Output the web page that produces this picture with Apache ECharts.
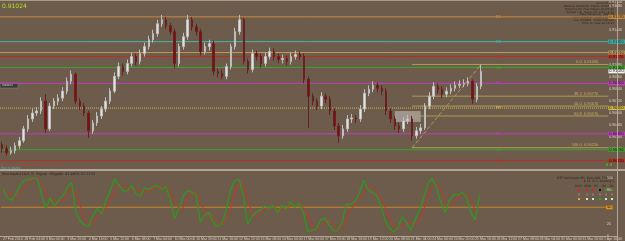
<!DOCTYPE html>
<html><head><meta charset="utf-8">
<script src="https://cdn.jsdelivr.net/npm/echarts@6/dist/echarts.min.js"></script>
<style>html,body{margin:0;padding:0;background:#6d5c4b;}#c{width:625px;height:241px;}</style>
</head><body><div id="c"></div>
<script>
const opens = [0.9028,0.9024,0.9020,0.9022,0.9027,0.9032,0.9044,0.9054,0.9060,0.9062,
0.9072,0.9044,0.9067,0.9072,0.9075,0.9082,0.9092,0.9099,0.9072,0.9067,
0.9060,0.9042,0.9050,0.9057,0.9064,0.9072,0.9082,0.9097,0.9107,0.9102,
0.9110,0.9117,0.9112,0.9120,0.9127,0.9134,0.9140,0.9150,0.9154,0.9148,
0.9142,0.9110,0.9127,0.9137,0.9154,0.9147,0.9142,0.9122,0.9127,0.9130,
0.9102,0.9100,0.9097,0.9107,0.9127,0.9142,0.9154,0.9112,0.9104,0.9120,
0.9117,0.9110,0.9117,0.9122,0.9117,0.9114,0.9115,0.9112,0.9117,0.9119,
0.9117,0.9094,0.9077,0.9072,0.9067,0.9077,0.9074,0.9062,0.9047,0.9037,
0.9044,0.9054,0.9055,0.9054,0.9064,0.9080,0.9084,0.9088,0.9085,0.9082,
0.9062,0.9054,0.9047,0.9044,0.9052,0.9054,0.9037,0.9042,0.9045,0.9067,
0.9077,0.9087,0.9084,0.9079,0.9082,0.9085,0.9088,0.9089,0.9090,0.9092,
0.9074,0.9087];
const closes = [0.9024,0.9020,0.9022,0.9027,0.9032,0.9044,0.9054,0.9060,0.9062,0.9072,
0.9044,0.9067,0.9072,0.9075,0.9082,0.9092,0.9099,0.9072,0.9067,0.9060,
0.9042,0.9050,0.9057,0.9064,0.9072,0.9082,0.9097,0.9107,0.9102,0.9110,
0.9117,0.9112,0.9120,0.9127,0.9134,0.9140,0.9150,0.9154,0.9148,0.9142,
0.9110,0.9127,0.9137,0.9154,0.9147,0.9142,0.9122,0.9127,0.9130,0.9102,
0.9100,0.9097,0.9107,0.9127,0.9142,0.9154,0.9112,0.9104,0.9120,0.9117,
0.9110,0.9117,0.9122,0.9117,0.9114,0.9115,0.9112,0.9117,0.9119,0.9117,
0.9094,0.9077,0.9072,0.9067,0.9077,0.9074,0.9062,0.9047,0.9037,0.9044,
0.9054,0.9055,0.9054,0.9064,0.9080,0.9084,0.9088,0.9085,0.9082,0.9062,
0.9054,0.9047,0.9044,0.9052,0.9054,0.9037,0.9042,0.9045,0.9067,0.9077,
0.9087,0.9084,0.9079,0.9082,0.9085,0.9088,0.9089,0.9090,0.9092,0.9074,
0.9087,0.9102];
const highs = [0.9031,0.9027,0.9026,0.9030,0.9036,0.9047,0.9058,0.9064,0.9066,0.9076,
0.9079,0.9070,0.9075,0.9079,0.9086,0.9096,0.9103,0.9101,0.9075,0.9070,
0.9062,0.9053,0.9061,0.9067,0.9076,0.9085,0.9101,0.9111,0.9110,0.9114,
0.9121,0.9120,0.9124,0.9131,0.9138,0.9144,0.9154,0.9159,0.9157,0.9151,
0.9145,0.9130,0.9141,0.9159,0.9157,0.9150,0.9145,0.9131,0.9134,0.9133,
0.9105,0.9104,0.9110,0.9130,0.9146,0.9159,0.9156,0.9115,0.9124,0.9123,
0.9120,0.9121,0.9126,0.9125,0.9120,0.9119,0.9118,0.9121,0.9123,0.9122,
0.9120,0.9097,0.9080,0.9075,0.9081,0.9080,0.9077,0.9065,0.9050,0.9048,
0.9058,0.9059,0.9058,0.9068,0.9084,0.9088,0.9092,0.9091,0.9088,0.9085,
0.9065,0.9057,0.9050,0.9056,0.9058,0.9057,0.9046,0.9049,0.9070,0.9081,
0.9091,0.9090,0.9087,0.9086,0.9089,0.9092,0.9093,0.9094,0.9096,0.9094,
0.9090,0.9109];
const lows = [0.9020,0.9017,0.9018,0.9019,0.9024,0.9030,0.9041,0.9051,0.9057,0.9059,
0.9040,0.9042,0.9064,0.9068,0.9072,0.9079,0.9089,0.9069,0.9063,0.9057,
0.9035,0.9039,0.9047,0.9054,0.9061,0.9069,0.9080,0.9094,0.9098,0.9099,
0.9107,0.9108,0.9109,0.9117,0.9124,0.9131,0.9137,0.9147,0.9145,0.9139,
0.9105,0.9107,0.9124,0.9134,0.9143,0.9138,0.9118,0.9119,0.9123,0.9098,
0.9096,0.9094,0.9094,0.9104,0.9124,0.9139,0.9109,0.9100,0.9101,0.9113,
0.9106,0.9107,0.9114,0.9113,0.9110,0.9110,0.9108,0.9109,0.9114,0.9114,
0.9090,0.9045,0.9068,0.9063,0.9064,0.9070,0.9058,0.9043,0.9030,0.9034,
0.9041,0.9050,0.9050,0.9051,0.9061,0.9077,0.9081,0.9081,0.9078,0.9058,
0.9050,0.9043,0.9040,0.9041,0.9049,0.9032,0.9034,0.9039,0.9043,0.9064,
0.9074,0.9080,0.9075,0.9076,0.9079,0.9082,0.9085,0.9086,0.9087,0.9069,
0.9071,0.9084];
const stochMain = [83,66,62,74,88,97,98,100,100,71,
48,66,52,62,71,84,93,41,26,19,
17,36,48,38,62,79,100,88,78,79,
88,74,69,84,81,86,88,81,86,62,
31,48,69,79,76,71,24,36,41,24,
17,21,45,79,97,98,71,21,34,41,
45,52,48,52,41,53,47,59,50,57,
41,7,10,12,28,31,19,9,10,24,
55,55,60,74,97,81,76,71,53,28,
14,7,14,33,24,9,28,45,66,91,
100,84,59,41,62,72,71,76,67,41,
28,71];
const stochSignal = [80,76,70,68,74,84,92,97,99,90,
74,62,56,60,62,72,83,72,53,29,
21,24,34,40,49,60,80,89,88,82,
82,80,77,76,78,84,85,85,85,76,
60,47,49,65,74,75,57,44,34,34,
27,21,28,48,74,91,89,63,42,32,
40,46,48,51,47,49,47,53,52,55,
49,35,19,10,17,24,26,20,13,14,
30,45,57,63,77,84,85,76,67,51,
32,16,12,18,24,22,20,27,46,67,
86,92,81,61,54,58,68,73,71,61,
45,52];
const tickLabels = ['27 Feb 2014','28 Feb 04:00','3 Mar 00:00','3 Mar 20:00','4 Mar 16:00','5 Mar 12:00','6 Mar 08:00','7 Mar 04:00','10 Mar 00:00','10 Mar 20:00','11 Mar 16:00','12 Mar 12:00','13 Mar 08:00','14 Mar 04:00','17 Mar 00:00','17 Mar 20:00','18 Mar 16:00','19 Mar 12:00','20 Mar 08:00','21 Mar 04:00','24 Mar 00:00','24 Mar 20:00','25 Mar 16:00','26 Mar 12:00','27 Mar 08:00','28 Mar 04:00','31 Mar 00:00','31 Mar 20:00','1 Apr 16:00'];
const pivotNames = ['R3','R2','','R1','M3','M2','PP','S1','S2','S3'];
const pivotLevels = [0.9157,0.9132,0.9121,0.9117,0.9106,0.9090,0.9065,0.9039,0.9023,0.9012];
const pivotColors = ['#c88a3c','#3db8b0','#c09a58','#b8302a','#3ea42a','#c23cc2','#d2bc4a','#c23cc2','#3ea42a','#b8302a'];
const fibNames = ['0.0','38.2','50.0','61.8','100.0'];
const fibLevels = [0.9109,0.9077,0.9067,0.9057,0.9025];
const fibStart = [95, 0.9025];
const fibEnd = [111, 0.9109];
const boxFrom = [91, 0.9062];
const boxTo = [97, 0.9051];
const stochLevel = 50;
const currentPrice = '0.91024';

const TOTAL = 141, PIVOT_LABEL_AT = 115;
const cats = []; for (let i = 0; i < TOTAL; i++) cats.push(String(i));
const ohlc = opens.map((o, i) => [o, closes[i], lows[i], highs[i]]);
const lastClose = closes[closes.length - 1];

const tagLabel = (text, bg) => ({show: true, formatter: text, distance: 0, backgroundColor: bg, color: '#111', fontSize: 4, lineHeight: 4, padding: [0, 1]});
const levelSeries = (v, color, type, label, xi, yi) => ({
  type: 'line', xAxisIndex: xi, yAxisIndex: yi, silent: true, symbol: 'none', z: 1,
  data: [[0, v], [TOTAL, v]], lineStyle: {color: color, width: 1, type: type},
  endLabel: label
});
const series = [];
pivotLevels.forEach((v, i) => series.push(levelSeries(v, pivotColors[i], i === 6 ? 'dotted' : 'solid', tagLabel(v.toFixed(5), pivotColors[i]), 2, 0)));
series.push(levelSeries(lastClose, 'rgba(0,0,0,0)', 'solid', tagLabel(lastClose.toFixed(5), '#f2f2f2'), 2, 0));
fibLevels.forEach((v, i) => series.push({
  type: 'line', xAxisIndex: 2, yAxisIndex: 0, silent: true, symbol: 'none', z: 2,
  data: [[fibStart[0] + 0.5, v], [TOTAL, v]], lineStyle: {color: '#b49a58', width: 1},
  endLabel: {show: true, formatter: fibNames[i] + '  ' + v.toFixed(5), color: '#c8aa60', fontSize: 4, align: 'right', distance: 0, offset: [-10, -2.5]}
}));
series.push({type: 'line', xAxisIndex: 2, yAxisIndex: 0, silent: true, symbol: 'none', z: 2,
  data: [[fibStart[0] + 0.5, fibStart[1]], [fibEnd[0] + 0.5, fibEnd[1]]], lineStyle: {color: '#b49a58', width: 1, type: 'dashed'}});
series.push({type: 'scatter', xAxisIndex: 0, yAxisIndex: 0, symbolSize: 0, silent: true, z: 2,
  data: pivotLevels.map((v, i) => ({value: [PIVOT_LABEL_AT, v], label: {show: pivotNames[i] !== '', position: 'inside', formatter: pivotNames[i], color: pivotColors[i], fontSize: 4, fontWeight: 'bold'}}))});
series.push({type: 'candlestick', xAxisIndex: 0, yAxisIndex: 0, data: ohlc, barWidth: 2, z: 3,
  itemStyle: {color: '#e2e2e2', color0: '#7a1010', borderColor: '#bdbdbd', borderColor0: '#6a2020', borderWidth: 1},
  markArea: {silent: true, itemStyle: {color: 'rgba(200,200,200,0.55)'}, data: [[{coord: boxFrom}, {coord: boxTo}]]}});
series.push(levelSeries(stochLevel, '#c8842e', 'solid', tagLabel(String(stochLevel), '#e8921e'), 3, 1));
series.push({type: 'line', xAxisIndex: 1, yAxisIndex: 1, data: stochSignal, symbol: 'none', z: 3, lineStyle: {color: '#c23a26', width: 1}});
series.push({type: 'line', xAxisIndex: 1, yAxisIndex: 1, data: stochMain, symbol: 'none', z: 4, lineStyle: {color: '#2e9a1e', width: 1.2}});

const chart = echarts.init(document.getElementById('c'), null, {renderer: 'canvas'});
const txt = (x, y, s, color, size, align) => ({type: 'text', x: x, y: y, silent: true, style: {text: s, fill: color, font: size + 'px "DejaVu Sans", sans-serif', align: align || 'left'}});
const info = ['Account Info','Balance 10000.00  Equity 10125.40','Margin 0.00  Free Margin 10125.40','Spread 1.8   Swap L/S -0.42 / 0.11','Daily Range 62   ADR 78','Open 0.90987   High 0.91093','Low 0.90841   Close 0.91024','Time to close 02:14:37'];
const graphics = [
  {type: 'rect', shape: {x: 0, y: 0, width: 625, height: 1}, style: {fill: '#a89a8a'}, silent: true, z: 100},
  {type: 'rect', shape: {x: 0, y: 169, width: 625, height: 2}, style: {fill: '#b2a596'}, silent: true, z: 100},
  {type: 'rect', shape: {x: 617, y: 0, width: 1, height: 241}, style: {fill: '#b2a596'}, silent: true, z: 100},
  {type: 'rect', shape: {x: 0, y: 236, width: 618, height: 1}, style: {fill: '#b2a596'}, silent: true, z: 100},
  txt(2, 3, currentPrice, '#b8e028', 6),
  {type: 'rect', shape: {x: 0, y: 83, width: 18, height: 5}, style: {fill: '#3c3a38', stroke: '#8a8a8a', lineWidth: 0.5}, silent: true},
  txt(2, 83.5, 'Select', '#cfcfcf', 3.5),
  txt(1, 163.5, 'Pivot Points Daily  R3 R2 R1 PP S1 S2 S3', '#d03a2a', 3),
  txt(1, 166.3, 'Fibo 0.90250', '#38b8c8', 3),
  txt(2, 172, 'Stochastic(14,3,3)  Signal  Alligator 47.4925 52.1133', '#2a241e', 3.5),
  txt(614, 176.5, 'MTF Stochastic M1  Bars 200  TF6 TF7', '#2a241e', 3, 'right'),
  txt(614, 180, 'K 14  D 3  Slowing 3', '#2a241e', 3, 'right'),
  txt(614, 184.5, 'M15   M30   H1    H4    D1', '#2a241e', 3, 'right'),
  {type: 'rect', shape: {x: 606, y: 163, width: 2, height: 3}, style: {fill: '#3ea42a'}, silent: true},
  {type: 'rect', shape: {x: 610, y: 163, width: 2, height: 3}, style: {fill: '#3ea42a'}, silent: true}
];
info.forEach((s, i) => graphics.push(txt(614, 2 + i * 2.8, s, '#2a241e', 2.8, 'right')));
const dotCols = [578, 586, 592, 599, 605, 611];
const dotRows = [[189, ['#e02020','#e02020','#e02020','#111111','#2ea020','#2ea020']],
  [193.5, ['#8a7a6a','#8a7a6a','#8a7a6a','#8a7a6a','#8a7a6a','#8a7a6a']],
  [198, ['#f0a020','#c8f0c0','#c8f0c0','#2ea020','#c8f0c0','#c8f0c0']]];
dotRows.forEach(r => r[1].forEach((c, j) => graphics.push({type: 'rect', shape: {x: dotCols[j], y: r[0], width: 2, height: 2}, style: {fill: c}, silent: true})));

chart.setOption({
  animation: false,
  backgroundColor: '#6d5c4b',
  graphic: graphics,
  grid: [
    {left: 0, right: 8, top: 0.5, height: 172},
    {left: 0, right: 8, top: 178.5, height: 58}
  ],
  xAxis: [
    {type: 'category', gridIndex: 0, data: cats, boundaryGap: true, axisLine: {show: false}, axisTick: {show: false}, axisLabel: {show: false}, splitLine: {show: false}},
    {type: 'category', gridIndex: 1, data: cats, boundaryGap: true, axisLine: {show: false}, axisTick: {show: false},
     axisLabel: {show: true, interval: 4, margin: 1, fontSize: 3.5, color: '#d8d0c6', align: 'left', formatter: (v, idx) => tickLabels[Math.round(idx / 5)] || ''}, splitLine: {show: false}},
    {type: 'value', gridIndex: 0, min: 0, max: TOTAL, show: false},
    {type: 'value', gridIndex: 1, min: 0, max: TOTAL, show: false}
  ],
  yAxis: [
    {type: 'value', gridIndex: 0, position: 'right', min: 0.9000, max: 0.9172, interval: 0.0012, axisLine: {show: false}, axisTick: {show: false}, splitLine: {show: false},
     axisLabel: {show: true, margin: 1, fontSize: 3.5, color: '#ddd5cb', showMinLabel: false, formatter: v => v.toFixed(5)}},
    {type: 'value', gridIndex: 1, position: 'right', min: 0, max: 100, axisLine: {show: false}, axisTick: {show: false}, splitLine: {show: false},
     axisLabel: {show: true, margin: 1, fontSize: 3.5, color: '#ddd5cb', customValues: [0, 20, 80, 100]}}
  ],
  series: series
});
</script>
</body></html>
